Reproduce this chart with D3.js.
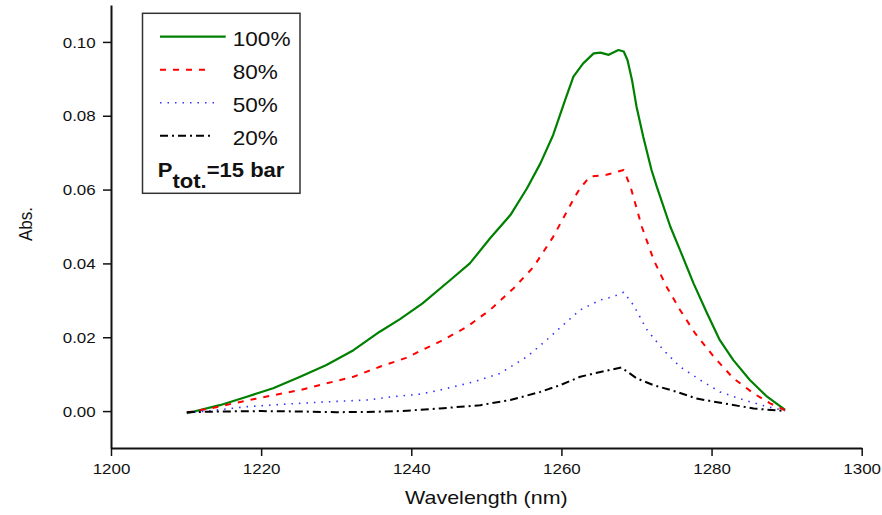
<!DOCTYPE html>
<html>
<head>
<meta charset="utf-8">
<script src="https://cdn.jsdelivr.net/npm/d3@7"></script>
<style>
  html, body { margin: 0; padding: 0; background: #fff; }
  text { font-family: Arial, "Liberation Sans", sans-serif; fill: #111; }
</style>
</head>
<body>
<svg id="chart" width="882" height="515"></svg>
<script>
// ---- data ----
const seriesNames = ["100%", "80%", "50%", "20%"];
const xTicks = [1200, 1220, 1240, 1260, 1280, 1300];
const yTicks = [0.00, 0.02, 0.04, 0.06, 0.08, 0.10];
const xLabel = "Wavelength (nm)";
const yLabel = "Abs.";

const wl100 = [1210.1,1214.5,1218.1,1221.6,1225.2,1228.7,1232.3,1235.8,1238.5,1241.5,1245.2,1247.8,1250.5,1253.2,1255.4,1257.2,1258.9,1260.5,1261.6,1262.9,1264.3,1265.2,1266.3,1267.6,1268.3,1268.8,1269.4,1270.0,1270.9,1272.0,1272.7,1274.5,1275.8,1277.6,1279.4,1281.1,1282.9,1285.1,1287.4,1289.8];
const abs100 = [-0.0006,0.0016,0.0039,0.0062,0.0093,0.0125,0.0165,0.0215,0.0249,0.0292,0.0355,0.0400,0.0468,0.0531,0.0603,0.0671,0.0748,0.0843,0.0906,0.0942,0.0969,0.0971,0.0965,0.0978,0.0974,0.0951,0.0897,0.0825,0.0743,0.0653,0.0608,0.0500,0.0436,0.0346,0.0265,0.0192,0.0138,0.0084,0.0039,0.0003];

const wl80 = [1210.1,1213.2,1216.3,1221.6,1225.2,1228.7,1232.3,1235.8,1239.3,1241.2,1243.8,1247.4,1250.5,1253.6,1256.3,1258.9,1261.8,1262.5,1263.8,1266.0,1268.3,1269.2,1270.7,1272.3,1274.0,1275.8,1277.8,1280.3,1282.9,1285.6,1287.8,1289.8];
const abs80 = [-0.0004,0.0007,0.0021,0.0043,0.0057,0.0075,0.0093,0.0120,0.0144,0.0163,0.0188,0.0228,0.0274,0.0332,0.0391,0.0472,0.0581,0.0604,0.0635,0.0640,0.0653,0.0608,0.0500,0.0409,0.0337,0.0274,0.0211,0.0147,0.0089,0.0048,0.0021,0.0002];

const wl50 = [1210.1,1212.8,1218.1,1223.4,1228.7,1234.1,1237.6,1241.2,1243.8,1248.3,1251.8,1255.4,1258.0,1260.7,1262.5,1265.2,1266.9,1268.3,1269.6,1271.4,1273.6,1275.8,1278.5,1281.1,1284.3,1287.4,1289.8];
const abs50 = [-0.0004,0.0000,0.0012,0.0019,0.0025,0.0030,0.0039,0.0046,0.0057,0.0079,0.0102,0.0147,0.0192,0.0242,0.0274,0.0301,0.0310,0.0322,0.0287,0.0220,0.0165,0.0120,0.0084,0.0052,0.0030,0.0012,0.0001];

const wl20 = [1210.1,1215.0,1220.0,1225.0,1230.0,1235.0,1238.5,1243.8,1249.2,1253.2,1257.2,1259.8,1262.5,1265.2,1268.0,1270.0,1272.3,1275.4,1278.0,1281.6,1285.6,1289.8];
const abs20 = [-0.0003,-0.0001,0.0000,-0.0001,-0.0003,-0.0002,0.0000,0.0007,0.0016,0.0030,0.0052,0.0070,0.0093,0.0106,0.0118,0.0089,0.0070,0.0052,0.0034,0.0021,0.0007,0.0000];

const seriesX = [wl100, wl80, wl50, wl20];
const seriesY = [abs100, abs80, abs50, abs20];

// ---- styles ----
const colors = ["#008000", "#ff0000", "#3333ff", "#000000"];
const dashes = [null, "6,7", "1.5,6", "8,4,2,4"];
const widths = [2.2, 2, 1.6, 2];
const SX = 1.13; // horizontal text stretch of the original

const svg = d3.select("#chart");
const x = d3.scaleLinear().domain([1200, 1300]).range([111, 861.7]);
const y = d3.scaleLinear().domain([-0.01, 0.11]).range([448, 5]);

// minor ticks
const xMinor = d3.range(1210, 1300, 20);
const yMinor = [-0.01, 0.01, 0.03, 0.05, 0.07, 0.09, 0.11];

const gx = svg.append("g").attr("transform", "translate(0,448)");
gx.call(d3.axisBottom(x).tickValues(xMinor).tickSize(4).tickSizeOuter(0).tickFormat(""));
gx.call(d3.axisBottom(x).tickValues(xTicks).tickSize(8).tickSizeOuter(0).tickFormat(d3.format("d")));
gx.selectAll(".domain").attr("stroke", "#111").attr("stroke-width", 2);
gx.selectAll(".tick line").attr("stroke", "#111").attr("stroke-width", 1.5);
gx.selectAll(".tick text")
  .attr("y", 26).attr("dy", 0)
  .attr("font-size", 15).attr("fill", "#111")
  .attr("transform", `scale(${SX},1)`);

const gy = svg.append("g").attr("transform", "translate(111,0)");
gy.call(d3.axisLeft(y).tickValues(yMinor).tickSize(4).tickSizeOuter(0).tickFormat(""));
gy.call(d3.axisLeft(y).tickValues(yTicks).tickSize(8).tickSizeOuter(0).tickFormat(d3.format(".2f")));
gy.selectAll(".domain").attr("stroke", "#111").attr("stroke-width", 2);
gy.selectAll(".tick line").attr("stroke", "#111").attr("stroke-width", 1.5);
gy.selectAll(".tick text")
  .attr("x", -15.3 / SX).attr("dy", "0.34em")
  .attr("font-size", 15).attr("fill", "#111")
  .attr("transform", `scale(${SX},1)`);

// axis titles
svg.append("text")
  .attr("transform", `translate(${(111 + 861.7) / 2},504) scale(${SX},1)`)
  .attr("text-anchor", "middle").attr("font-size", 19)
  .text(xLabel);
svg.append("text")
  .attr("transform", `translate(32,224) rotate(-90) scale(1,${SX})`)
  .attr("text-anchor", "middle").attr("font-size", 17)
  .text(yLabel);

// lines
const line = d3.line().x(d => x(d[0])).y(d => y(d[1]));
seriesNames.forEach((name, i) => {
  const pts = seriesX[i].map((w, j) => [w, seriesY[i][j]]);
  svg.append("path")
    .datum(pts)
    .attr("d", line)
    .attr("fill", "none")
    .attr("stroke", colors[i])
    .attr("stroke-width", widths[i])
    .attr("stroke-dasharray", dashes[i])
    .attr("stroke-linejoin", "round");
});

// legend
const lg = svg.append("g");
lg.append("rect")
  .attr("x", 142.5).attr("y", 13.3).attr("width", 157.5).attr("height", 180)
  .attr("fill", "#fff").attr("stroke", "#333").attr("stroke-width", 1.5);
const legLineEnd = [225.7, 212, 216.7, 212];
seriesNames.forEach((name, i) => {
  const ly = 36.7 + i * 33;
  lg.append("line")
    .attr("x1", 160).attr("x2", legLineEnd[i])
    .attr("y1", ly).attr("y2", ly)
    .attr("stroke", colors[i]).attr("stroke-width", widths[i])
    .attr("stroke-dasharray", dashes[i]);
  lg.append("text")
    .attr("transform", `translate(232.7,${ly + 9}) scale(${SX},1)`)
    .attr("font-size", 20)
    .text(name);
});
const pt = lg.append("text")
  .attr("transform", `translate(157.7,176.5) scale(${SX},1)`)
  .attr("font-size", 19.5).attr("font-weight", "bold");
pt.append("tspan").text("P");
pt.append("tspan").attr("dy", 11.6).text("tot.");
pt.append("tspan").attr("dy", -11.6).text("=15 bar");
</script>
</body>
</html>
